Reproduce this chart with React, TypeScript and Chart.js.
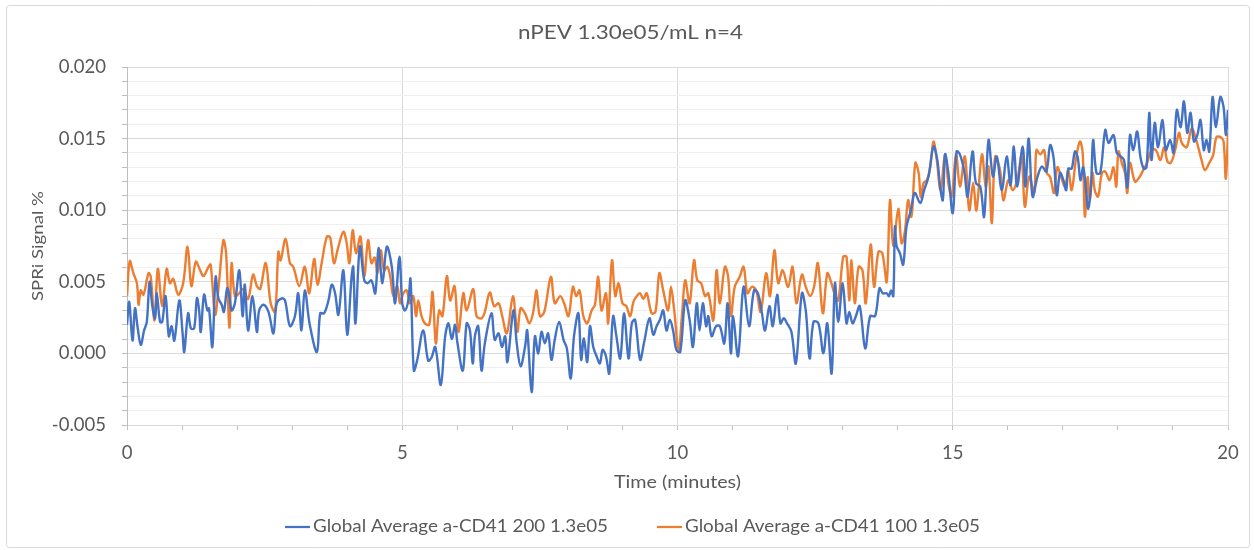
import React, { useEffect, useRef } from "react";
import { Chart, registerables } from "chart.js";

Chart.register(...registerables);

const chartTitle = "nPEV 1.30e05/mL n=4";
const xAxisTitle = "Time (minutes)";
const yAxisTitle = "SPRi Signal %";
const seriesNames = ["Global Average a-CD41 200 1.3e05", "Global Average a-CD41 100 1.3e05"];
const seriesColors = ["#4472C4", "#ED7D31"];

const blueTimes = [
  0, 0.04, 0.10, 0.145, 0.19, 0.25, 0.31, 0.36, 0.41, 0.46, 0.51, 0.54, 0.60, 0.64, 0.70, 0.76, 0.81, 0.86, 0.95, 1.01,
  1.04, 1.11, 1.16, 1.22, 1.27, 1.31, 1.34, 1.40, 1.46, 1.49, 1.55, 1.61, 1.66, 1.72, 1.76, 1.82, 1.86, 1.90, 1.96, 2.04,
  2.10, 2.14, 2.20, 2.28, 2.36, 2.40, 2.48, 2.57, 2.66, 2.72, 2.81, 2.87, 2.96, 3.05, 3.11, 3.17, 3.23, 3.32, 3.45, 3.51,
  3.58, 3.66, 3.72, 3.78, 3.84, 3.93, 4.00, 4.08, 4.11, 4.15, 4.23, 4.31, 4.37, 4.44, 4.51, 4.57, 4.64, 4.72, 4.81, 4.87,
  4.95, 5.00, 5.05, 5.11, 5.15, 5.21, 5.27, 5.38, 5.47, 5.53, 5.60, 5.70, 5.78, 5.84, 5.90, 5.96, 6.00, 6.10, 6.17, 6.23,
  6.28, 6.32, 6.38, 6.44, 6.50, 6.62, 6.68, 6.75, 6.81, 6.87, 6.91, 7.02, 7.08, 7.15, 7.23, 7.27, 7.35, 7.41, 7.47, 7.53,
  7.59, 7.65, 7.71, 7.77, 7.85, 7.93, 7.99, 8.06, 8.12, 8.20, 8.25, 8.30, 8.36, 8.41, 8.47, 8.53, 8.59, 8.64, 8.70, 8.76,
  8.83, 8.89, 8.96, 9.03, 9.11, 9.17, 9.23, 9.32, 9.39, 9.49, 9.56, 9.62, 9.68, 9.74, 9.80, 9.86, 9.92, 9.98, 10.05, 10.14,
  10.22, 10.28, 10.35, 10.40, 10.46, 10.52, 10.56, 10.62, 10.70, 10.77, 10.85, 10.91, 10.97, 11.01, 11.10, 11.20, 11.30, 11.39, 11.46, 11.53,
  11.59, 11.67, 11.73, 11.81, 11.87, 11.93, 11.99, 12.07, 12.15, 12.26, 12.33, 12.40, 12.47, 12.56, 12.65, 12.72, 12.80, 12.86, 12.92, 13.00,
  13.07, 13.12, 13.18, 13.24, 13.31, 13.41, 13.50, 13.59, 13.67, 13.73, 13.80, 13.84, 13.88, 13.92, 13.95, 13.98, 14.04, 14.10, 14.16, 14.24,
  14.31, 14.41, 14.48, 14.56, 14.65, 14.72, 14.77, 14.82, 14.86, 14.92, 15.00, 15.07, 15.13, 15.21, 15.27, 15.36, 15.42, 15.50, 15.57, 15.65,
  15.73, 15.80, 15.89, 15.98, 16.05, 16.11, 16.17, 16.27, 16.32, 16.38, 16.45, 16.54, 16.62, 16.70, 16.77, 16.83, 16.89, 16.95, 17.01, 17.06,
  17.10, 17.16, 17.22, 17.27, 17.32, 17.37, 17.43, 17.46, 17.51, 17.55, 17.61, 17.68, 17.77, 17.83, 17.92, 17.98, 18.04, 18.11, 18.17, 18.22,
  18.28, 18.35, 18.41, 18.47, 18.52, 18.57, 18.61, 18.67, 18.73, 18.81, 18.87, 18.95, 19.01, 19.07, 19.14, 19.20, 19.26, 19.32, 19.38, 19.44,
  19.50, 19.56, 19.61, 19.66, 19.72, 19.78, 19.86, 19.92, 19.96, 20.00,
];

const blueValues = [
  0.0020, 0.0036, 0.0009, 0.00315, 0.0019, 0.0006, 0.0016, 0.0022, 0.0050, 0.0033, 0.00245, 0.0042, 0.0022, 0.0022, 0.0040, 0.0012, 0.0019, 0.0009, 0.0037, 0.0014,
  0.0001, 0.0028, 0.00175, 0.00175, 0.00385, 0.0030, 0.0015, 0.0041, 0.0030, 0.00315, 0.00045, 0.00535, 0.00385, 0.0034, 0.0029, 0.00455, 0.0040, 0.0030, 0.0035, 0.0058,
  0.0026, 0.0048, 0.0016, 0.0040, 0.0015, 0.0030, 0.0034, 0.0029, 0.0014, 0.0035, 0.00385, 0.0037, 0.0019, 0.0026, 0.0042, 0.0016, 0.0044, 0.0020, 0.0001, 0.0028,
  0.0028, 0.0037, 0.0048, 0.0042, 0.0027, 0.0058, 0.0013, 0.00535, 0.00605, 0.0021, 0.00745, 0.0051, 0.0049, 0.0051, 0.0042, 0.00735, 0.0049, 0.00745, 0.00605, 0.0035,
  0.00675, 0.0035, 0.0030, 0.0037, 0.0052, -0.0012, -0.0005, 0.0016, -0.0005, -0.0003, 0.00045, -0.0022, 0.0012, 0.0021, 0.0010, 0.0020, 0.0008, -0.0012, 0.0021, 0.0016,
  -0.0007, 0.0012, 0.0019, -0.0012, 0.0007, 0.0028, 0.00095, 0.0014, 0.00045, 0.0012, -0.0006, 0.0030, 0.0007, -0.0009, 0.00045, 0.0016, -0.0027, 0.0012, 0.0000, 0.0015,
  0.0007, 0.0014, -0.00045, 0.00095, 0.0022, 0.00095, 0.00035, -0.00175, 0.0012, 0.0028, -0.00045, 0.00105, -0.0006, 0.0019, 0.00045, -0.0002, -0.0007, 0.00025, -0.0002, -0.0014,
  0.0026, 0.0012, -0.00035, 0.0028, -0.00035, 0.0021, 0.00235, -0.00045, 0.0007, 0.00245, 0.0013, 0.0019, 0.00235, 0.0030, 0.0016, 0.00235, 0.0016, 0.00025, 0.0001, 0.0037,
  0.00235, 0.00045, 0.0035, 0.0016, 0.0035, 0.0019, 0.0026, 0.0012, 0.0019, 0.0019, 0.0007, 0.0035, 0.0000, 0.0026, -0.0002, 0.00465, 0.0019, 0.0044, 0.0042, 0.0029,
  0.0016, 0.0033, 0.0019, 0.0041, 0.0021, 0.00245, 0.0021, 0.0015, -0.0007, 0.0042, 0.0030, -0.00035, 0.0022, 0.0021, 0.0000, 0.0021, -0.0014, 0.0049, 0.0022, 0.0049,
  0.0021, 0.0029, 0.0021, 0.0026, 0.0033, 0.00035, 0.0026, 0.0026, 0.00455, 0.0042, 0.0042, 0.0040, 0.0044, 0.0040, 0.00885, 0.0075, 0.0070, 0.0062, 0.00885, 0.0100,
  0.0112, 0.0105, 0.0114, 0.01235, 0.01445, 0.0135, 0.01165, 0.0107, 0.0139, 0.0126, 0.0098, 0.0141, 0.0139, 0.0127, 0.01095, 0.0141, 0.0119, 0.01165, 0.00955, 0.0149,
  0.01235, 0.01375, 0.0114, 0.01375, 0.01175, 0.01445, 0.01165, 0.01445, 0.01165, 0.0150, 0.01095, 0.01235, 0.01305, 0.0127, 0.01455, 0.0137, 0.01105, 0.0126, 0.0121, 0.0114,
  0.0129, 0.0129, 0.0141, 0.0137, 0.0121, 0.0130, 0.01105, 0.0101, 0.0116, 0.0149, 0.0126, 0.0126, 0.0156, 0.0147, 0.01525, 0.0140, 0.0138, 0.0135, 0.0116, 0.01525,
  0.0142, 0.0155, 0.0137, 0.0129, 0.0130, 0.0168, 0.0135, 0.0161, 0.0144, 0.0163, 0.0142, 0.0149, 0.0140, 0.0170, 0.0158, 0.0176, 0.0154, 0.0168, 0.0148, 0.0152,
  0.0163, 0.0142, 0.0149, 0.0141, 0.0179, 0.0158, 0.0179, 0.0172, 0.01525, 0.0170,
];

const orangeTimes = [
  0, 0.05, 0.115, 0.18, 0.21, 0.25, 0.30, 0.39, 0.43, 0.50, 0.56, 0.64, 0.72, 0.78, 0.84, 0.93, 1.02, 1.10, 1.17, 1.25,
  1.33, 1.39, 1.48, 1.52, 1.60, 1.67, 1.75, 1.80, 1.86, 1.90, 1.96, 2.04, 2.11, 2.20, 2.29, 2.36, 2.42, 2.52, 2.61, 2.69,
  2.75, 2.79, 2.88, 2.96, 3.02, 3.13, 3.23, 3.31, 3.40, 3.46, 3.54, 3.63, 3.69, 3.76, 3.83, 3.93, 3.99, 4.04, 4.10, 4.16,
  4.24, 4.31, 4.38, 4.44, 4.50, 4.55, 4.61, 4.67, 4.73, 4.78, 4.84, 4.91, 4.96, 5.02, 5.08, 5.14, 5.20, 5.25, 5.29, 5.35,
  5.41, 5.49, 5.55, 5.61, 5.67, 5.73, 5.81, 5.87, 5.95, 6.02, 6.11, 6.17, 6.29, 6.35, 6.44, 6.50, 6.59, 6.67, 6.75, 6.81,
  6.90, 7.01, 7.09, 7.15, 7.23, 7.31, 7.38, 7.44, 7.50, 7.58, 7.70, 7.77, 7.87, 7.94, 8.02, 8.10, 8.16, 8.22, 8.29, 8.36,
  8.44, 8.50, 8.56, 8.62, 8.70, 8.74, 8.81, 8.87, 8.93, 9.00, 9.07, 9.14, 9.20, 9.26, 9.32, 9.38, 9.44, 9.53, 9.60, 9.67,
  9.74, 9.83, 9.88, 9.94, 10.02, 10.08, 10.14, 10.22, 10.30, 10.36, 10.43, 10.50, 10.56, 10.65, 10.71, 10.77, 10.86, 10.92, 10.97, 11.04,
  11.13, 11.20, 11.27, 11.35, 11.43, 11.51, 11.61, 11.68, 11.76, 11.83, 11.91, 12.01, 12.09, 12.16, 12.26, 12.33, 12.41, 12.48, 12.55, 12.64,
  12.72, 12.78, 12.85, 12.92, 13.01, 13.07, 13.12, 13.16, 13.22, 13.29, 13.36, 13.42, 13.51, 13.57, 13.65, 13.72, 13.80, 13.86, 13.92, 14.01,
  14.07, 14.13, 14.19, 14.25, 14.32, 14.38, 14.42, 14.47, 14.53, 14.59, 14.65, 14.71, 14.78, 14.86, 14.92, 14.98, 15.06, 15.13, 15.22, 15.30,
  15.37, 15.43, 15.53, 15.60, 15.65, 15.71, 15.77, 15.86, 15.92, 16.01, 16.09, 16.17, 16.25, 16.31, 16.39, 16.48, 16.52, 16.59, 16.66, 16.71,
  16.77, 16.84, 16.90, 16.97, 17.04, 17.10, 17.16, 17.24, 17.31, 17.36, 17.40, 17.45, 17.49, 17.54, 17.58, 17.64, 17.71, 17.77, 17.85, 17.92,
  17.97, 18.01, 18.07, 18.13, 18.17, 18.22, 18.31, 18.39, 18.46, 18.53, 18.61, 18.69, 18.77, 18.84, 18.90, 18.96, 19.04, 19.11, 19.16, 19.25,
  19.34, 19.43, 19.52, 19.58, 19.66, 19.73, 19.79, 19.87, 19.92, 19.96, 20.00,
];

const orangeValues = [
  0.0040, 0.00645, 0.0056, 0.0049, 0.0034, 0.0044, 0.0041, 0.0056, 0.0054, 0.0023, 0.0059, 0.0033, 0.0059, 0.0049, 0.0052, 0.0041, 0.0049, 0.00745, 0.0047, 0.0064,
  0.0058, 0.0054, 0.00605, 0.0062, 0.0027, 0.0049, 0.0079, 0.0070, 0.0018, 0.0063, 0.0040, 0.0042, 0.0045, 0.0038, 0.0055, 0.0047, 0.0045, 0.0063, 0.0035, 0.0029,
  0.0071, 0.0065, 0.0080, 0.0063, 0.00605, 0.0047, 0.00605, 0.0042, 0.0066, 0.0048, 0.0064, 0.00815, 0.0081, 0.0063, 0.0073, 0.0085, 0.0077, 0.0063, 0.0086, 0.0070,
  0.00815, 0.0054, 0.0079, 0.0063, 0.0067, 0.0056, 0.0072, 0.0058, 0.00605, 0.0054, 0.0040, 0.0047, 0.0035, 0.0042, 0.0044, 0.0035, 0.0040, 0.0026, 0.0037, 0.0026,
  0.0021, 0.0020, 0.0043, 0.0007, 0.0030, 0.0026, 0.0054, 0.0037, 0.0047, 0.0015, 0.0042, 0.0030, 0.0045, 0.0026, 0.00245, 0.0029, 0.00425, 0.0033, 0.0035, 0.0027,
  0.0014, 0.0040, 0.0015, 0.00315, 0.0028, 0.0021, 0.0029, 0.0044, 0.0026, 0.0029, 0.00535, 0.0035, 0.0040, 0.0035, 0.0026, 0.00465, 0.0040, 0.0044, 0.0026, 0.0021,
  0.0030, 0.0034, 0.00535, 0.0030, 0.0042, 0.0021, 0.0065, 0.0040, 0.0049, 0.0035, 0.0033, 0.0026, 0.0036, 0.0040, 0.0042, 0.0038, 0.0042, 0.0028, 0.0029, 0.0056,
  0.0044, 0.0030, 0.00465, 0.0030, 0.00025, 0.0026, 0.0051, 0.0035, 0.0065, 0.0051, 0.0049, 0.0040, 0.0042, 0.0023, 0.0058, 0.0035, 0.00605, 0.00535, 0.0026, 0.00465,
  0.00535, 0.00605, 0.0042, 0.00465, 0.0044, 0.0029, 0.0056, 0.0040, 0.0072, 0.0049, 0.0058, 0.00465, 0.00605, 0.0035, 0.0055, 0.00465, 0.0040, 0.00465, 0.0063, 0.0028,
  0.0056, 0.0051, 0.0042, 0.0037, 0.00675, 0.00675, 0.0037, 0.0065, 0.0035, 0.00605, 0.0058, 0.0035, 0.0076, 0.00465, 0.0071, 0.0070, 0.0050, 0.0107, 0.0075, 0.0101,
  0.0077, 0.0085, 0.0107, 0.00955, 0.0133, 0.0126, 0.0109, 0.0119, 0.0121, 0.0130, 0.0148, 0.0135, 0.0114, 0.0139, 0.0119, 0.01095, 0.0139, 0.01165, 0.01375, 0.0100,
  0.0119, 0.0100, 0.0139, 0.01165, 0.01305, 0.0091, 0.01375, 0.0128, 0.0107, 0.0121, 0.0114, 0.0121, 0.01375, 0.01025, 0.01235, 0.0112, 0.0142, 0.0139, 0.0142, 0.0126,
  0.0123, 0.0112, 0.0130, 0.0123, 0.01165, 0.0128, 0.0114, 0.0136, 0.0148, 0.0140, 0.00955, 0.0123, 0.0107, 0.0126, 0.0114, 0.01095, 0.0126, 0.0127, 0.0121, 0.0130,
  0.01165, 0.0141, 0.0133, 0.0126, 0.0112, 0.0133, 0.0120, 0.0123, 0.0128, 0.0133, 0.0142, 0.0142, 0.0135, 0.0144, 0.0134, 0.0133, 0.0142, 0.0154, 0.0147, 0.0144,
  0.0157, 0.0148, 0.0135, 0.0128, 0.0133, 0.01385, 0.0151, 0.0151, 0.0148, 0.0122, 0.0154,
];

const xMajorStep = 5;
const yMajorStep = 0.005;

const FONT = "Lato, 'Open Sans', sans-serif";
const TEXT = "#595959";

const W = 1254;
const H = 550;

// draws text horizontally stretched to a target width (the reference text is slightly wide)
function fitText(ctx: any, text: string, x: number, y: number, width: number, align: "left" | "center") {
  const m = ctx.measureText(text).width;
  const sx = width / m;
  ctx.save();
  ctx.translate(x, y);
  ctx.scale(sx, 1);
  ctx.textAlign = align;
  ctx.fillText(text, 0, 0);
  ctx.restore();
}

const decorPlugin = {
  id: "decor",
  beforeDraw(chart: any) {
    const ctx = chart.ctx;
    ctx.save();
    ctx.fillStyle = "#ffffff";
    ctx.fillRect(0, 0, W, H);
    ctx.strokeStyle = "#d9d9d9";
    ctx.lineWidth = 1;
    ctx.beginPath();
    ctx.roundRect(6.5, 5.5, 1243, 542, 3);
    ctx.stroke();
    ctx.restore();
  },
  afterDraw(chart: any) {
    const ctx = chart.ctx;
    const area = chart.chartArea;
    ctx.save();
    ctx.fillStyle = TEXT;
    ctx.textBaseline = "middle";

    ctx.font = `19px ${FONT}`;
    fitText(ctx, chartTitle, 630.5, 33, 225, "center");

    ctx.font = `17px ${FONT}`;
    fitText(ctx, xAxisTitle, (area.left + area.right) / 2, 483, 127, "center");

    ctx.save();
    ctx.translate(37.5, (area.top + area.bottom) / 2);
    ctx.rotate(-Math.PI / 2);
    ctx.font = `16px ${FONT}`;
    fitText(ctx, yAxisTitle, 0, 0, 110, "center");
    ctx.restore();

    // legend
    ctx.font = `17px ${FONT}`;
    const legendY = 527;
    const starts = [285, 657];
    seriesNames.forEach((name, i) => {
      const x0 = starts[i];
      ctx.strokeStyle = seriesColors[i];
      ctx.lineWidth = 2.25;
      ctx.beginPath();
      ctx.moveTo(x0, legendY);
      ctx.lineTo(x0 + 25, legendY);
      ctx.stroke();
      ctx.fillStyle = TEXT;
      fitText(ctx, name, x0 + 28, legendY, 295, "left");
    });
    ctx.restore();
  },
};

export default function App() {
  const ref = useRef<HTMLCanvasElement | null>(null);

  useEffect(() => {
    if (!ref.current) return;
    const mk = (ts: number[], vs: number[]) => ts.map((t, i) => ({ x: t, y: vs[i] }));
    const isMajor = (v: number, step: number) => {
      const r = v / step;
      return Math.abs(r - Math.round(r)) < 1e-6;
    };
    const chart = new Chart(ref.current, {
      type: "line",
      data: {
        datasets: [
          {
            label: seriesNames[0],
            data: mk(blueTimes, blueValues),
            borderColor: seriesColors[0],
            backgroundColor: seriesColors[0],
            borderWidth: 2.4,
            pointRadius: 0,
            tension: 0.35,
          },
          {
            label: seriesNames[1],
            data: mk(orangeTimes, orangeValues),
            borderColor: seriesColors[1],
            backgroundColor: seriesColors[1],
            borderWidth: 2.4,
            pointRadius: 0,
            tension: 0.35,
          },
        ],
      },
      options: {
        responsive: false,
        animation: false,
        devicePixelRatio: 1,
        layout: { padding: { left: 45, top: 67, right: 26, bottom: 65 } },
        plugins: {
          legend: { display: false },
          title: { display: false },
          tooltip: { enabled: false },
        },
        scales: {
          x: {
            type: "linear",
            min: 0,
            max: 20,
            afterFit: (s: any) => {
              s.height = 60;
            },
            ticks: {
              stepSize: 1,
              autoSkip: false,
              maxRotation: 0,
              padding: 12,
              color: TEXT,
              font: { family: FONT, size: 18.5 },
              callback: (v: any) => (isMajor(Number(v), xMajorStep) ? String(Math.round(Number(v))) : ""),
            },
            grid: {
              color: (c: any) => (c.tick && isMajor(c.tick.value, xMajorStep) ? "#d9d9d9" : "rgba(0,0,0,0)"),
              tickColor: "#bfbfbf",
              tickLength: 5,
            },
            border: { color: "#d9d9d9" },
          },
          y: {
            min: -0.005,
            max: 0.02,
            afterFit: (s: any) => {
              s.width = 82;
            },
            ticks: {
              stepSize: 0.001,
              autoSkip: false,
              padding: 16,
              color: TEXT,
              font: { family: FONT, size: 18.5 },
              callback: (v: any) => (isMajor(Number(v), yMajorStep) ? Number(v).toFixed(3) : ""),
            },
            grid: {
              color: (c: any) => {
                if (!c.tick) return "#efefef";
                return isMajor(c.tick.value, yMajorStep) ? "#d9d9d9" : "#efefef";
              },
              tickColor: "#bfbfbf",
              tickLength: 5,
            },
            border: { color: "#bfbfbf" },
          },
        },
      },
      plugins: [decorPlugin],
    });
    return () => chart.destroy();
  }, []);

  return (
    <div style={{ position: "fixed", left: 0, top: 0, width: W, height: H, background: "#fff" }}>
      <canvas ref={ref} width={W} height={H} style={{ width: W, height: H, display: "block" }} />
    </div>
  );
}
